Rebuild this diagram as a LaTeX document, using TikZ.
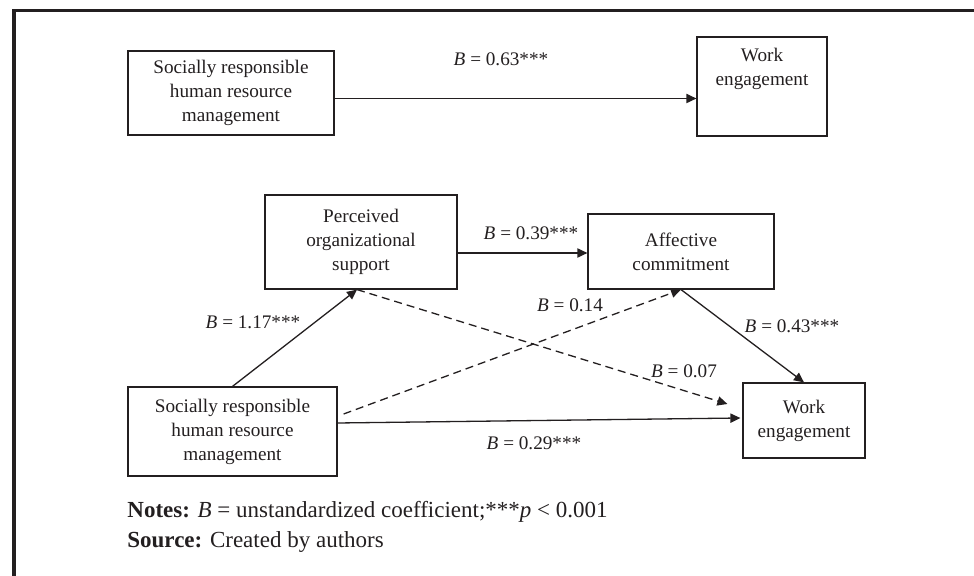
\documentclass[tikz,border=0pt]{standalone}
\usepackage{fontspec}
\setmainfont{Liberation Serif}
\usetikzlibrary{arrows.meta}
\definecolor{ink}{HTML}{231F20}
\begin{document}
\begin{tikzpicture}[x=0.5pt,y=-0.5pt,
  every node/.style={text=ink},
  box/.style={draw=ink, line width=0.6pt, rectangle, inner sep=0pt, align=center,
    font=\fontsize{9.6}{12}\selectfont},
  lbl/.style={inner sep=0pt, font=\fontsize{9.6}{12}\selectfont},
  note/.style={inner sep=0pt, font=\fontsize{11.5}{14}\selectfont},
  conn/.style={draw=ink, line width=0.65pt, -{Triangle[length=5pt,width=4.6pt]}},
  dconn/.style={conn, dash pattern=on 4pt off 2.5pt},
  frame/.style={draw=ink, line width=1.75pt}
]
\useasboundingbox (0,0) rectangle (974,576);
\draw[frame] (14,576) -- (14,10.7) -- (974,10.7);

% top model
\node[box, minimum width=103pt, minimum height=42pt] (srTop) at (231,93)
  {Socially responsible\\human resource\\management};
\node[box, minimum width=65pt, minimum height=49.5pt,
  label={[lbl, align=center, anchor=north, yshift=-5.75pt]north:Work\\engagement}] (weTop) at (762,86.5) {};
\draw[conn] ([yshift=-2.75pt]srTop.east) -- ([yshift=-6pt]weTop.west);
\node[lbl] (l063) at (501,59) {\textit{B} = 0.63***};

% mediation model
\node[box, minimum width=96pt, minimum height=47pt] (pos) at (361,242)
  {Perceived\\organizational\\support};
\node[box, minimum width=93pt, minimum height=37.5pt] (ac) at (681,251.5)
  {Affective\\commitment};
\node[box, minimum width=61pt, minimum height=37.5pt] (we2) at (804,420.5)
  {Work\\engagement};
\node[box, minimum width=104.5pt, minimum height=44.5pt] (sr2) at (232.5,431.5)
  {Socially responsible\\human resource\\management};

\coordinate (posIn) at ([xshift=-2pt]pos.south);
\coordinate (weDash) at ([xshift=-7.5pt,yshift=8.25pt]we2.west);
\coordinate (srDash) at ([xshift=3pt,yshift=8.75pt]sr2.east);

\draw[conn] ([yshift=-5.5pt]pos.east) -- ([yshift=-0.75pt]ac.west);
\draw[conn] (sr2.north) -- (posIn);
\draw[dconn] (posIn) -- (weDash);
\draw[dconn] (srDash) -- (ac.south);
\draw[conn] ([yshift=4.25pt]sr2.east) -- ([xshift=-1pt,yshift=1.25pt]we2.west);
\draw[conn] (ac.south) -- (we2.north);

\node[lbl] (l039) at (531,233) {\textit{B} = 0.39***};
\node[lbl] (l117) at (253,322) {\textit{B} = 1.17***};
\node[lbl] (l014) at (570,305) {\textit{B} = 0.14};
\node[lbl] (l043) at (792,326) {\textit{B} = 0.43***};
\node[lbl] (l007) at (684,371) {\textit{B} = 0.07};
\node[lbl] (l029) at (534,443) {\textit{B} = 0.29***};

% notes
\node[note, anchor=base west] (notes) at (127,518)
  {\textbf{Notes:} \textit{B} = unstandardized coefficient;***\textit{p} < 0.001};
\node[note, anchor=base west] (source) at (127,547)
  {\textbf{Source:} Created by authors};
\end{tikzpicture}
\end{document}
